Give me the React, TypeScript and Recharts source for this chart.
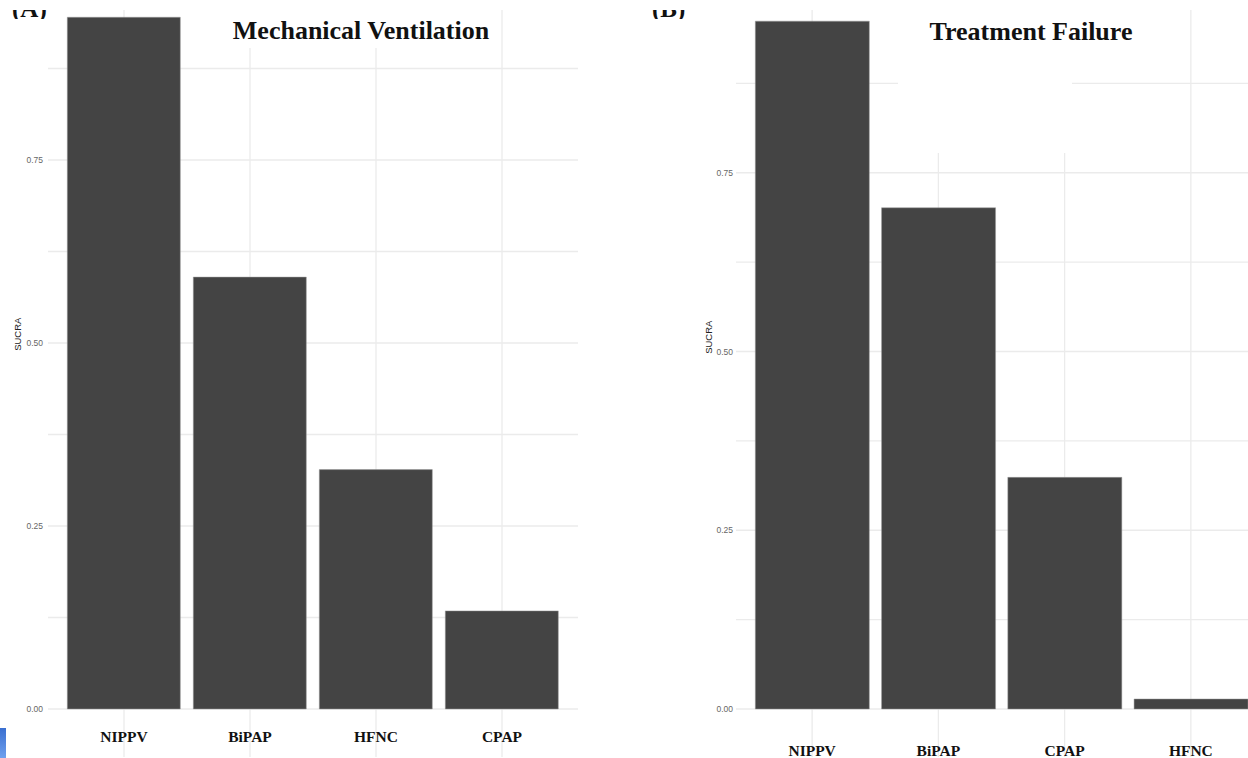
import { BarChart, Bar, XAxis, YAxis, CartesianGrid } from 'recharts'

// Panel A: Mechanical Ventilation
const CATEGORIES_MV = ['NIPPV', 'BiPAP', 'HFNC', 'CPAP']
const SUCRA_MV = [0.945, 0.59, 0.327, 0.134]

// Panel B: Treatment Failure
const CATEGORIES_TF = ['NIPPV', 'BiPAP', 'CPAP', 'HFNC']
const SUCRA_TF = [0.962, 0.701, 0.324, 0.014]

// major + minor grid values, only majors get labels
const Y_TICKS = [0, 0.125, 0.25, 0.375, 0.5, 0.625, 0.75, 0.875]
const Y_LABELED = [0, 0.25, 0.5, 0.75]

const GRID = '#ebebeb'
const BAR = '#444444'

const fmtY = (v: number) => (Y_LABELED.includes(v) ? v.toFixed(2) : '')

function XTick(props: any) {
  const { x, y, payload, lift } = props
  return (
    <text
      x={x}
      y={y - lift}
      textAnchor="middle"
      dominantBaseline="central"
      fontFamily="'Liberation Serif', 'Times New Roman', serif"
      fontWeight="bold"
      fontSize={15.5}
      fill="#111"
    >
      {payload.value}
    </text>
  )
}

const sucraLabel = (dx: number, frac: number) => (props: any) => {
  const vb = props.viewBox || { x: 0, y: 0, width: 0, height: 0 }
  const x = vb.x + dx
  const y = vb.y + vb.height * frac
  return (
    <text
      x={x}
      y={y}
      transform={`rotate(-90, ${x}, ${y})`}
      textAnchor="middle"
      dominantBaseline="central"
      fontFamily="'Liberation Sans', Arial, sans-serif"
      fontSize={9.5}
      fill="#222"
    >
      SUCRA
    </text>
  )
}

interface PanelProps {
  categories: string[]
  values: number[]
  width: number
  domain: [number, number]
  tickSize: number
  lift: number
  labelDx: number
  labelFrac: number
}

function Panel({ categories, values, width, domain, tickSize, lift, labelDx, labelFrac }: PanelProps) {
  const data = categories.map((c, i) => ({ name: c, sucra: values[i] }))
  return (
    <BarChart
      width={width}
      height={758}
      data={data}
      margin={{ top: 10, right: 0, bottom: 0, left: 0 }}
      barCategoryGap="5%"
    >
      <CartesianGrid stroke={GRID} strokeWidth={1.3} syncWithTicks />
      <XAxis
        dataKey="name"
        height={1}
        axisLine={false}
        tickLine={false}
        tickSize={0}
        tickMargin={0}
        padding={{ left: 13, right: 13 }}
        interval={0}
        tick={<XTick lift={lift} />}
      />
      <YAxis
        type="number"
        width={48}
        domain={domain}
        allowDataOverflow
        ticks={Y_TICKS}
        interval={0}
        tickFormatter={fmtY}
        axisLine={false}
        tickLine={false}
        tickSize={tickSize}
        tickMargin={2}
        tick={{ fontSize: 8.5, fill: '#666', fontFamily: "'Liberation Sans', Arial, sans-serif" }}
        label={{ content: sucraLabel(labelDx, labelFrac) }}
      />
      <Bar dataKey="sucra" fill={BAR} stroke="#9a9a9a" strokeWidth={0.5} isAnimationActive={false} />
    </BarChart>
  )
}

const titleStyle: React.CSSProperties = {
  position: 'absolute',
  background: '#fff',
  fontFamily: "'Liberation Serif', 'Times New Roman', serif",
  fontWeight: 'bold',
  fontSize: 26,
  lineHeight: '28px',
  color: '#111',
  textAlign: 'center',
  whiteSpace: 'nowrap',
}

const maskStyle: React.CSSProperties = {
  position: 'absolute',
  background: '#fff',
}

const tagStyle: React.CSSProperties = {
  position: 'absolute',
  top: 10,
  height: 9,
  overflow: 'hidden',
  background: '#fff',
}

const tagText: React.CSSProperties = {
  position: 'absolute',
  top: -14,
  left: 0,
  fontFamily: "'Liberation Serif', 'Times New Roman', serif",
  fontWeight: 'bold',
  fontSize: 25,
  lineHeight: '25px',
  color: '#111',
  whiteSpace: 'nowrap',
}

export default function App() {
  return (
    <div
      style={{
        position: 'fixed',
        left: 0,
        top: 0,
        width: 1248,
        height: 758,
        overflow: 'hidden',
        background: '#fff',
      }}
    >
      <div style={{ position: 'absolute', left: 0, top: 0 }}>
        <Panel
          categories={CATEGORIES_MV}
          values={SUCRA_MV}
          width={578}
          domain={[-0.0656, 0.9549]}
          tickSize={3}
          lift={21}
          labelDx={18}
          labelFrac={0.434}
        />
      </div>
      <div style={{ position: 'absolute', left: 688, top: 0 }}>
        <Panel
          categories={CATEGORIES_TF}
          values={SUCRA_TF}
          width={579}
          domain={[-0.0671, 0.9776]}
          tickSize={1}
          lift={7}
          labelDx={21}
          labelFrac={0.438}
        />
      </div>

      {/* white patches over the grid behind the titles */}
      <div style={{ ...maskStyle, left: 225, top: 10, width: 272, height: 38 }} />
      <div style={{ ...maskStyle, left: 898, top: 10, width: 174, height: 143 }} />

      <div style={{ ...titleStyle, left: 221, top: 17, width: 280 }}>Mechanical Ventilation</div>
      <div style={{ ...titleStyle, left: 921, top: 18, width: 220 }}>Treatment Failure</div>

      {/* panel tags, cut off at the top as in the source */}
      <div style={{ ...tagStyle, left: 12, width: 50 }}>
        <span style={tagText}>(A)</span>
      </div>
      <div style={{ ...tagStyle, left: 652, width: 50 }}>
        <span style={tagText}>(B)</span>
      </div>

      <div
        style={{
          position: 'absolute',
          left: 0,
          top: 728,
          width: 6,
          height: 30,
          background: 'linear-gradient(#3a6fd0, #6fa0ee)',
        }}
      />
    </div>
  )
}
